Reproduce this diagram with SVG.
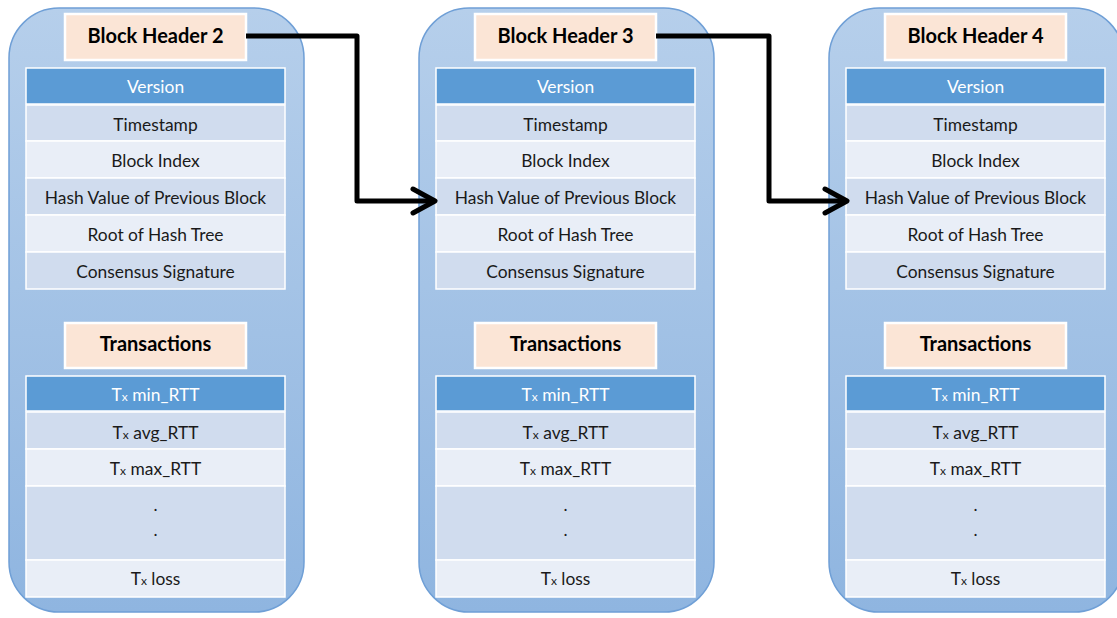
<svg xmlns="http://www.w3.org/2000/svg" width="1117" height="618" viewBox="0 0 1117 618">
<defs>
<linearGradient id="bg" x1="0" y1="0" x2="0" y2="1">
<stop offset="0" stop-color="#b6cfeb"/>
<stop offset="1" stop-color="#8fb5e0"/>
</linearGradient>
<style>
.cont{fill:url(#bg);stroke:#6f9fd6;stroke-width:1.5}
.hdr{fill:#fbe5d6;stroke:#ffffff;stroke-width:2.5}
.hdrt{font-family:Lato,"Liberation Sans",sans-serif;font-weight:bold;font-size:20px;fill:#000;text-anchor:middle}
.dk{fill:#5b9bd5;stroke:#ffffff;stroke-width:1.5}
.md{fill:#d0dcee;stroke:#ffffff;stroke-width:1.5}
.lt{fill:#e9eef7;stroke:#ffffff;stroke-width:1.5}
.t{font-family:Lato,"Liberation Sans",sans-serif;font-size:17.4px;fill:#1a1a1a;text-anchor:middle}
.tw{font-family:Lato,"Liberation Sans",sans-serif;font-size:17.4px;fill:#ffffff;text-anchor:middle}
.sub{font-size:12px}
.arr{fill:none;stroke:#000;stroke-width:5;stroke-linejoin:round}
.ah{fill:none;stroke:#000;stroke-width:5;stroke-linecap:round;stroke-linejoin:round}
</style>
<g id="blk">
<rect class="cont" x="9" y="8" width="295" height="604" rx="50" ry="50"/>
<rect class="hdr" x="65" y="14" width="181" height="46"/>
<rect class="dk" x="26" y="68" width="259" height="36"/>
<rect class="md" x="26" y="105" width="259" height="36"/>
<rect class="lt" x="26" y="141" width="259" height="37"/>
<rect class="md" x="26" y="178" width="259" height="37"/>
<rect class="lt" x="26" y="215" width="259" height="37"/>
<rect class="md" x="26" y="252" width="259" height="37"/>
<text class="tw" x="155.5" y="93">Version</text>
<text class="t" x="155.5" y="131">Timestamp</text>
<text class="t" x="155.5" y="167">Block Index</text>
<text class="t" x="155.5" y="204">Hash Value of Previous Block</text>
<text class="t" x="155.5" y="241">Root of Hash Tree</text>
<text class="t" x="155.5" y="278">Consensus Signature</text>
<rect class="hdr" x="65" y="323" width="181" height="45"/>
<text class="hdrt" x="155.5" y="351">Transactions</text>
<rect class="dk" x="26" y="376" width="259" height="35"/>
<rect class="md" x="26" y="412" width="259" height="37"/>
<rect class="lt" x="26" y="449" width="259" height="37"/>
<rect class="md" x="26" y="486" width="259" height="74"/>
<rect class="lt" x="26" y="560" width="259" height="37"/>
<text class="tw" x="155.5" y="401">T<tspan class="sub">x</tspan> min_RTT</text>
<text class="t" x="155.5" y="439">T<tspan class="sub">x</tspan> avg_RTT</text>
<text class="t" x="155.5" y="475">T<tspan class="sub">x</tspan> max_RTT</text>
<text class="t" x="155.5" y="511">.</text>
<text class="t" x="155.5" y="536">.</text>
<text class="t" x="155.5" y="585">T<tspan class="sub">x</tspan> loss</text>
</g>
</defs>
<g id="block2">
<use href="#blk"/>
<text class="hdrt" x="155.5" y="43">Block Header 2</text>
</g>
<g id="block3" transform="translate(410,0)">
<use href="#blk"/>
<text class="hdrt" x="155.5" y="43">Block Header 3</text>
</g>
<g id="block4" transform="translate(820,0)">
<use href="#blk"/>
<text class="hdrt" x="155.5" y="43">Block Header 4</text>
</g>
<g id="connectors">
<polyline class="arr" points="246,36 357,36 357,201 433,201"/>
<polyline class="ah" points="413,189 435,201 413,213"/>
<polyline class="arr" points="656,36 769,36 769,201 845,201"/>
<polyline class="ah" points="825,189 847,201 825,213"/>
</g>
</svg>
